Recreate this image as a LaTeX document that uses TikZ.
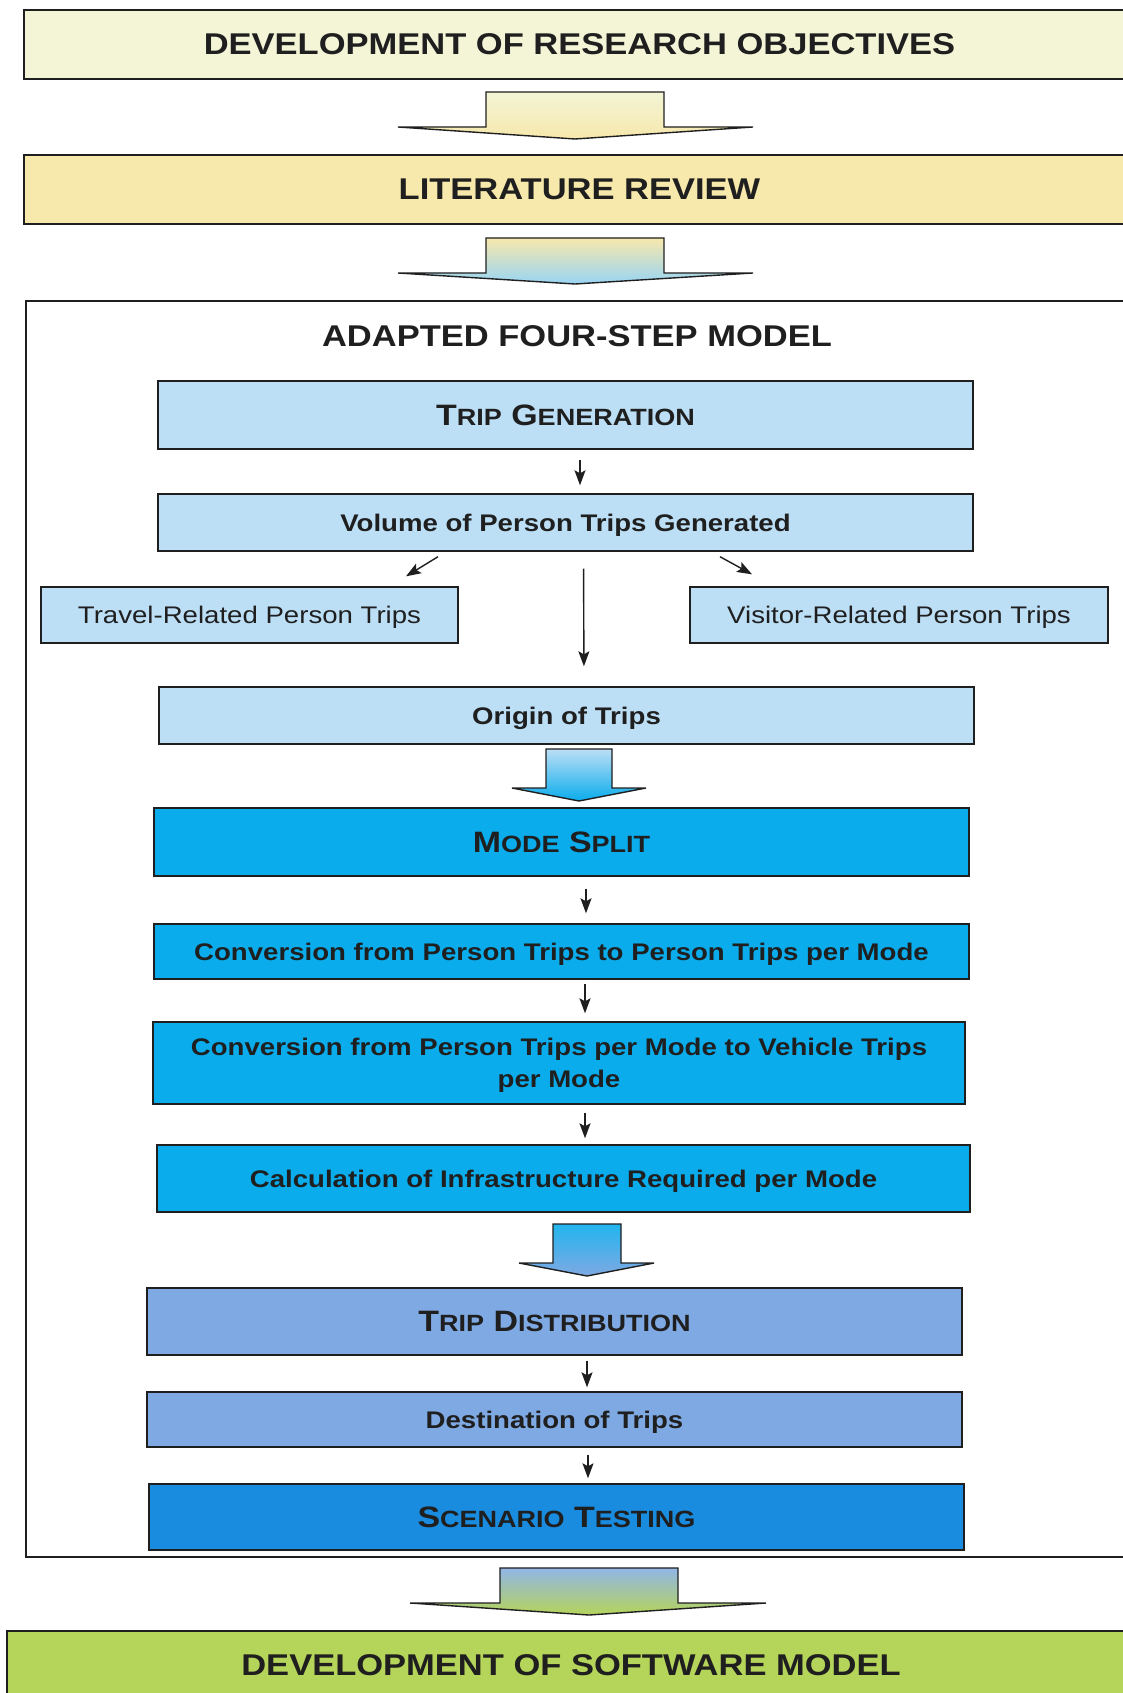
\documentclass[tikz,border=0pt]{standalone}
\usepackage{fontspec}
\setmainfont{Liberation Sans}[FakeStretch=1.15]
\usetikzlibrary{arrows.meta}

\definecolor{objfill}{HTML}{F3F5D6}
\definecolor{litfill}{HTML}{F7E8AC}
\definecolor{paleblue}{HTML}{BCDFF6}
\definecolor{cyanblue}{HTML}{0AACEC}
\definecolor{periblue}{HTML}{7EA9E3}
\definecolor{deepblue}{HTML}{1A8CE0}
\definecolor{swfill}{HTML}{B5D45A}
\definecolor{inkgray}{HTML}{1F1F1F}

% small caps faked with a smaller size
\newcommand{\smcap}[2]{#1{\fontsize{23.5}{28}\selectfont #2}}

\begin{document}
\begin{tikzpicture}[x=1pt, y=-1pt, >={Stealth[length=15pt,width=11pt,inset=3pt]},
  box/.style={draw=inkgray, line width=1.4pt, inner sep=0pt, text=inkgray},
  bigtext/.style={font=\fontsize{30}{36}\selectfont\bfseries},
  captext/.style={font=\fontsize{29.5}{35}\selectfont\bfseries},
  subtext/.style={font=\fontsize{24}{32}\selectfont\bfseries, text depth=0pt},
  plaintext/.style={font=\fontsize{24}{32}\selectfont, text depth=0pt},
  arr/.style={->, draw=inkgray, line width=1.4pt},
  blockarr/.style={draw=inkgray, line width=1.4pt, line join=miter}]
  \useasboundingbox (0,0) rectangle (1123,1693);

  % outer steps
  \node[box, bigtext, fill=objfill, minimum width=1111, minimum height=69] (obj) at (579.5,44.5) {DEVELOPMENT OF RESEARCH OBJECTIVES};
  \node[box, bigtext, fill=litfill, minimum width=1111, minimum height=69] (lit) at (579.5,189.5) {LITERATURE REVIEW};
  \shadedraw[blockarr, top color=objfill, bottom color=litfill] (486,92) -- (664,92) -- (664,127) -- (753,127) -- (575,139) -- (398,127) -- (486,127) -- cycle;
  \shadedraw[blockarr, top color=litfill, bottom color=paleblue!80!cyanblue] (486,238) -- (664,238) -- (664,273) -- (753,273) -- (575,284) -- (398,273) -- (486,273) -- cycle;

  % four-step model frame
  \draw[line width=1.4pt, draw=inkgray] (1135,301) -- (26,301) -- (26,1557) -- (1135,1557);
  \node[bigtext, text=inkgray] (title) at (577,336) {ADAPTED FOUR-STEP MODEL};

  % trip generation
  \node[box, captext, fill=paleblue, minimum width=815, minimum height=68] (gen) at (565.5,415) {\smcap{T}{RIP} \smcap{G}{ENERATION}};
  \node[box, subtext, fill=paleblue, minimum width=815, minimum height=57] (vol) at (565.5,522.5) {Volume of Person Trips Generated};
  \node[box, plaintext, fill=paleblue, minimum width=417, minimum height=56] (trav) at (249.5,615) {Travel-Related Person Trips};
  \node[box, plaintext, fill=paleblue, minimum width=418, minimum height=56] (visit) at (899,615) {Visitor-Related Person Trips};
  \node[box, subtext, fill=paleblue, minimum width=815, minimum height=57] (orig) at (566.5,715.5) {Origin of Trips};
  \draw[arr, shorten <=10pt, shorten >=8pt] ([xshift=14.5pt]gen.south) -- ([xshift=14.5pt]vol.north);
  \draw[arr] ([shift={(-127.5,5)}]vol.south) -- ([shift={(156.5,-10)}]trav.north);
  \draw[arr] ([shift={(154.5,5)}]vol.south) -- ([shift={(-147,-12)}]visit.north);
  \draw[arr, shorten <=17pt, shorten >=20pt] ([xshift=18pt]vol.south) -- ([xshift=17.5pt]orig.north);
  \shadedraw[blockarr, top color=paleblue, bottom color=cyanblue] (546,749) -- (612,749) -- (612,788) -- (646,788) -- (579,801) -- (512,788) -- (546,788) -- cycle;

  % mode split
  \node[box, captext, fill=cyanblue, minimum width=815, minimum height=68] (mode) at (561.5,842) {\smcap{M}{ODE} \smcap{S}{PLIT}};
  \node[box, subtext, fill=cyanblue, minimum width=815, minimum height=55] (conv1) at (561.5,951.5) {Conversion from Person Trips to Person Trips per Mode};
  \node[box, subtext, fill=cyanblue, align=center, minimum width=812, minimum height=82] (conv2) at (559,1063) {Conversion from Person Trips per Mode to Vehicle Trips\\per Mode};
  \node[box, subtext, fill=cyanblue, minimum width=813, minimum height=67] (calc) at (563.5,1178.5) {Calculation of Infrastructure Required per Mode};
  \draw[arr, shorten <=12pt, shorten >=10pt] ([xshift=24.5pt]mode.south) -- ([xshift=24.5pt]conv1.north);
  \draw[arr, shorten <=4pt, shorten >=8pt] ([xshift=23.5pt]conv1.south) -- ([xshift=26pt]conv2.north);
  \draw[arr, shorten <=8pt, shorten >=6pt] ([xshift=26pt]conv2.south) -- ([xshift=21.5pt]calc.north);
  \shadedraw[blockarr, top color=cyanblue!90!white, bottom color=periblue] (553,1224) -- (621,1224) -- (621,1263) -- (654,1263) -- (587,1276) -- (519,1263) -- (553,1263) -- cycle;

  % trip distribution
  \node[box, captext, fill=periblue, minimum width=815, minimum height=67] (dist) at (554.5,1321.5) {\smcap{T}{RIP} \smcap{D}{ISTRIBUTION}};
  \node[box, subtext, fill=periblue, minimum width=815, minimum height=55] (dest) at (554.5,1419.5) {Destination of Trips};
  \node[box, captext, fill=deepblue, minimum width=815, minimum height=66] (scen) at (556.5,1517) {\smcap{S}{CENARIO} \smcap{T}{ESTING}};
  \draw[arr, shorten <=5pt, shorten >=4pt] ([xshift=32.5pt]dist.south) -- ([xshift=32.5pt]dest.north);
  \draw[arr, shorten <=7pt, shorten >=5pt] ([xshift=33.5pt]dest.south) -- ([xshift=31.5pt]scen.north);

  % software model
  \shadedraw[blockarr, top color=periblue!85!white, bottom color=swfill] (500,1568) -- (678,1568) -- (678,1603) -- (766,1603) -- (589,1615) -- (410,1603) -- (500,1603) -- cycle;
  \node[box, bigtext, fill=swfill, minimum width=1128, minimum height=69] (sw) at (571,1665.5) {DEVELOPMENT OF SOFTWARE MODEL};
\end{tikzpicture}
\end{document}
